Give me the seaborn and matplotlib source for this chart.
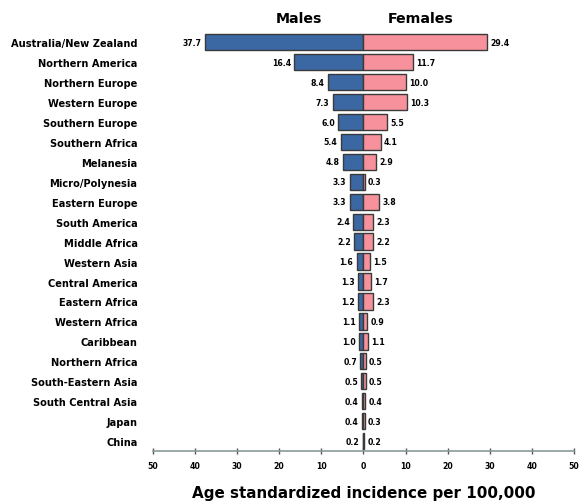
import pandas as pd
import seaborn as sns
import matplotlib.pyplot as plt

regions = ["Australia/New Zealand", "Northern America", "Northern Europe", "Western Europe",
           "Southern Europe", "Southern Africa", "Melanesia", "Micro/Polynesia", "Eastern Europe",
           "South America", "Middle Africa", "Western Asia", "Central America", "Eastern Africa",
           "Western Africa", "Caribbean", "Northern Africa", "South-Eastern Asia",
           "South Central Asia", "Japan", "China"]
males = [37.7, 16.4, 8.4, 7.3, 6.0, 5.4, 4.8, 3.3, 3.3, 2.4, 2.2, 1.6, 1.3, 1.2, 1.1, 1.0,
         0.7, 0.5, 0.4, 0.4, 0.2]
females = [29.4, 11.7, 10.0, 10.3, 5.5, 4.1, 2.9, 0.3, 3.8, 2.3, 2.2, 1.5, 1.7, 2.3, 0.9, 1.1,
           0.5, 0.5, 0.4, 0.3, 0.2]
xticks = [-50, -40, -30, -20, -10, 0, 10, 20, 30, 40, 50]

sns.set_style("white", {"text.color": "black", "axes.labelcolor": "black",
                        "xtick.color": "black", "ytick.color": "black"})
plt.rcParams['font.family'] = ['DejaVu Sans']

df = pd.DataFrame({"region": regions, "Males": [-m for m in males], "Females": females})

fig = plt.figure(figsize=(5.81, 5.02), dpi=100)
ax = fig.add_axes([0.263, 0.0996, 0.725, 0.834])

sns.barplot(data=df, y="region", x="Males", color="#3b67a3", saturation=1,
            edgecolor="#3a3a3a", linewidth=1.0, width=0.82, ax=ax, orient="h")
sns.barplot(data=df, y="region", x="Females", color="#f7929c", saturation=1,
            edgecolor="#3a3a3a", linewidth=1.0, width=0.82, ax=ax, orient="h")

# value labels
for i, (m, f) in enumerate(zip(males, females)):
    ax.text(-m - 0.8, i, f"{m:.1f}", ha="right", va="center", fontsize=5.6,
            fontweight="bold", color="black")
    ax.text(f + 0.8, i, f"{f:.1f}", ha="left", va="center", fontsize=5.6,
            fontweight="bold", color="black")

ax.set_xlim(-50, 50)
ax.set_ylim(20.5, -0.5)
ax.set_xticks(xticks)
ax.set_xticklabels([str(abs(t)) for t in xticks], fontsize=5.6, fontweight="bold")
ax.tick_params(axis="x", bottom=True, direction="inout", length=4, width=1,
               color="#555555", pad=5, labelcolor="black")
ax.tick_params(axis="y", length=0, pad=11, labelcolor="black")
for lab in ax.get_yticklabels():
    lab.set_fontsize(7.1)
    lab.set_fontweight("bold")

sns.despine(ax=ax, left=True, top=True, right=True)
ax.spines["bottom"].set_color("#8a9a9a")
ax.spines["bottom"].set_linewidth(1.2)
ax.set_ylabel("")
ax.set_xlabel("Age standardized incidence per 100,000", fontsize=10.9, fontweight="bold",
              labelpad=11, color="black")

fig.text(299 / 581, 1 - 19 / 502, "Males", ha="center", va="center", fontsize=10.2,
         fontweight="bold", color="black")
fig.text(421 / 581, 1 - 19 / 502, "Females", ha="center", va="center", fontsize=10.2,
         fontweight="bold", color="black")

fig.savefig("out.png", dpi=100)
